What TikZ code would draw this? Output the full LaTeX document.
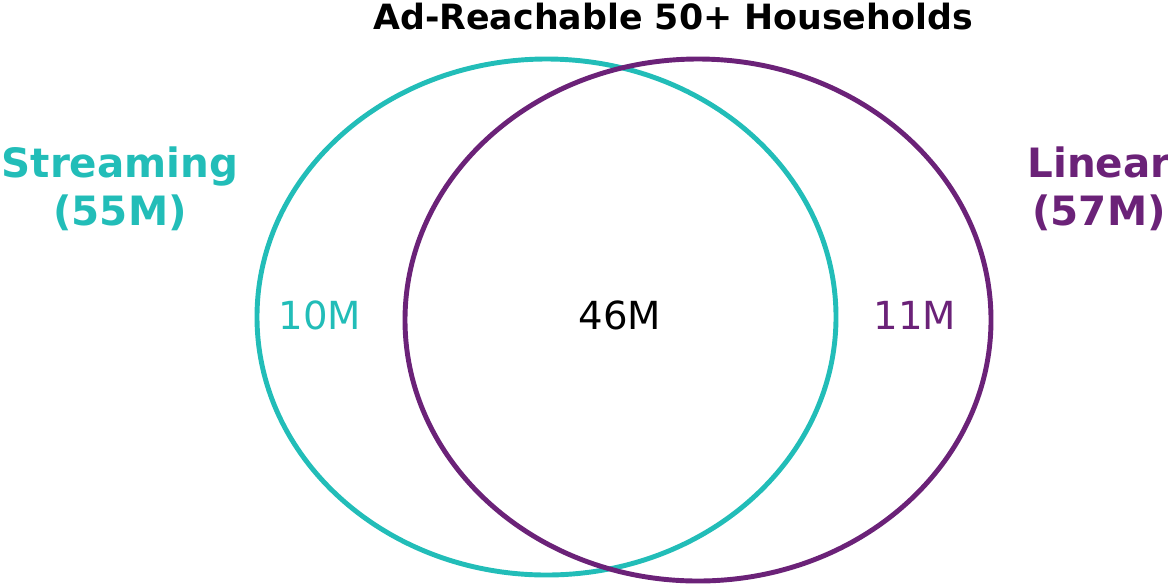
\documentclass[tikz,border=0pt]{standalone}
\usepackage{fontspec}
\setmainfont{DejaVu Sans}
\usetikzlibrary{positioning}
\definecolor{streamteal}{HTML}{22BDB8}
\definecolor{linearpurple}{HTML}{6B2278}

\begin{document}
\begin{tikzpicture}[
        x=0.02cm, y=-0.02cm,
        ring/.style={
            line width=2.8pt
        },
        set_label/.style={
            align=center,
            font=\fontsize{23}{27}\selectfont\bfseries
        },
        count_label/.style={
            font=\fontsize{22}{26}\selectfont
        }
    ]
        \useasboundingbox (0,0) rectangle (1168,586);
        \clip (0,0) rectangle (1168,586);
        % the two sets
        \draw[ring, streamteal] (546.5,317) ellipse [x radius=289.5, y radius=258];
        \draw[ring, linearpurple] (698,320) ellipse [x radius=293, y radius=261];
        % titles
        \node[font=\fontsize{19.8}{23}\selectfont\bfseries] (title) at (673,17) {Ad-Reachable 50+ Households};
        \node[set_label, text=streamteal] (streaming) at (120,189) {Streaming\\(55M)};
        \node[set_label, text=linearpurple] (linear) at (1099,189) {Linear\\(57M)};
        % counts
        \node[count_label, text=streamteal] (only_stream) at (320,315) {10M};
        \node[count_label] (both) at (620,315) {46M};
        \node[count_label, text=linearpurple] (only_linear) at (915,315) {11M};
    \end{tikzpicture}
\end{document}
